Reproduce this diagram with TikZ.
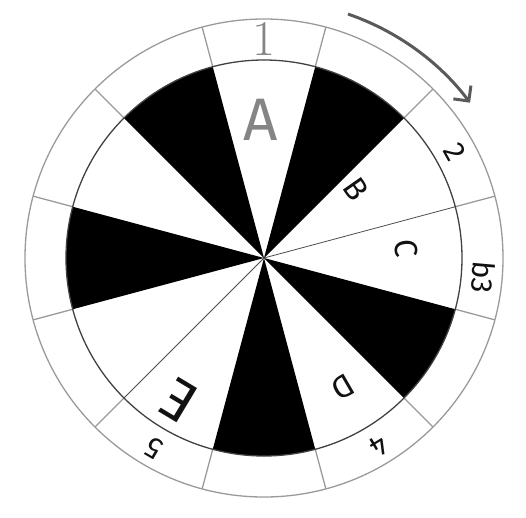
\documentclass[tikz,border=0pt]{standalone}
\usepackage{fontspec}
\newfontfamily\handfont{Fira Sans}
\usetikzlibrary{arrows.meta}
\definecolor{ink}{HTML}{111111}
\definecolor{ring}{HTML}{9A9A9A}
\definecolor{softgray}{HTML}{858585}
\definecolor{arrowgray}{HTML}{5A5A5A}
\tikzset{
  sector/.style={fill=black, draw=none},
  ringline/.style={draw=ring, line width=1.3pt},
  innerline/.style={draw=ink!80, line width=1.3pt},
  spoke/.style={draw=ink!75, line width=0.8pt},
  degree/.style={font=\handfont\fontsize{30}{30}\selectfont, text=ink, inner sep=0pt},
  letter/.style={font=\handfont\fontsize{32}{32}\selectfont, text=ink, inner sep=0pt},
  turn/.style={-{Straight Barb[length=11pt,width=22pt,line width=3pt]}, line width=3pt, draw=arrowgray}
}
\begin{document}
\begin{tikzpicture}
\useasboundingbox (-264pt,-259pt) rectangle (262pt,258pt);
% black sectors of the wheel
\foreach \a in {60,-30,-90,180,120}
  \fill[sector] (0,0) -- (\a-15:198pt) arc[start angle=\a-15, end angle=\a+15, radius=198pt] -- cycle;
% split lines between neighbouring white sectors
\coordinate (hub) at (0,0);
\coordinate (bc) at (15:198pt);
\coordinate (ef) at (-135:198pt);
\draw[spoke] (hub) -- (bc);
\draw[spoke] (hub) -- (ef);
% outer ring of degrees
\foreach \a in {15,45,...,345}
  \draw[ringline] (\a:198pt) -- (\a:239pt);
\draw[ringline] (0,0) circle[radius=239pt];
\draw[innerline] (0,0) circle[radius=198pt];
\node[inner sep=0pt, text=softgray, font=\fontsize{50}{50}\selectfont] (one) at (90:219pt) {1};
\node[degree, rotate=-61] (two) at (29:218pt) {2};
\node[degree, rotate=-95] (three) at (-5:220pt) {b3};
\node[degree, rotate=-148.5] (four) at (-58.5:221pt) {4};
\node[degree, rotate=150] (five) at (-120:220pt) {5};
% chord letters
\node[letter, text=softgray, font=\handfont\fontsize{60}{60}\selectfont] (la) at (91.5:138pt) {A};
\node[letter, rotate=-55] (lb) at (37:115pt) {B};
\node[letter, rotate=-85] (lc) at (4:143pt) {C};
\node[letter, rotate=-150] (ld) at (-58.5:151pt) {D};
\node[letter, rotate=149, font=\handfont\fontsize{58}{58}\selectfont] (le) at (-121:166pt) {E};
% turning direction
\coordinate (turnstart) at (71:258pt);
\draw[turn] (turnstart) arc[start angle=71, end angle=37, radius=258pt];
\end{tikzpicture}
\end{document}
